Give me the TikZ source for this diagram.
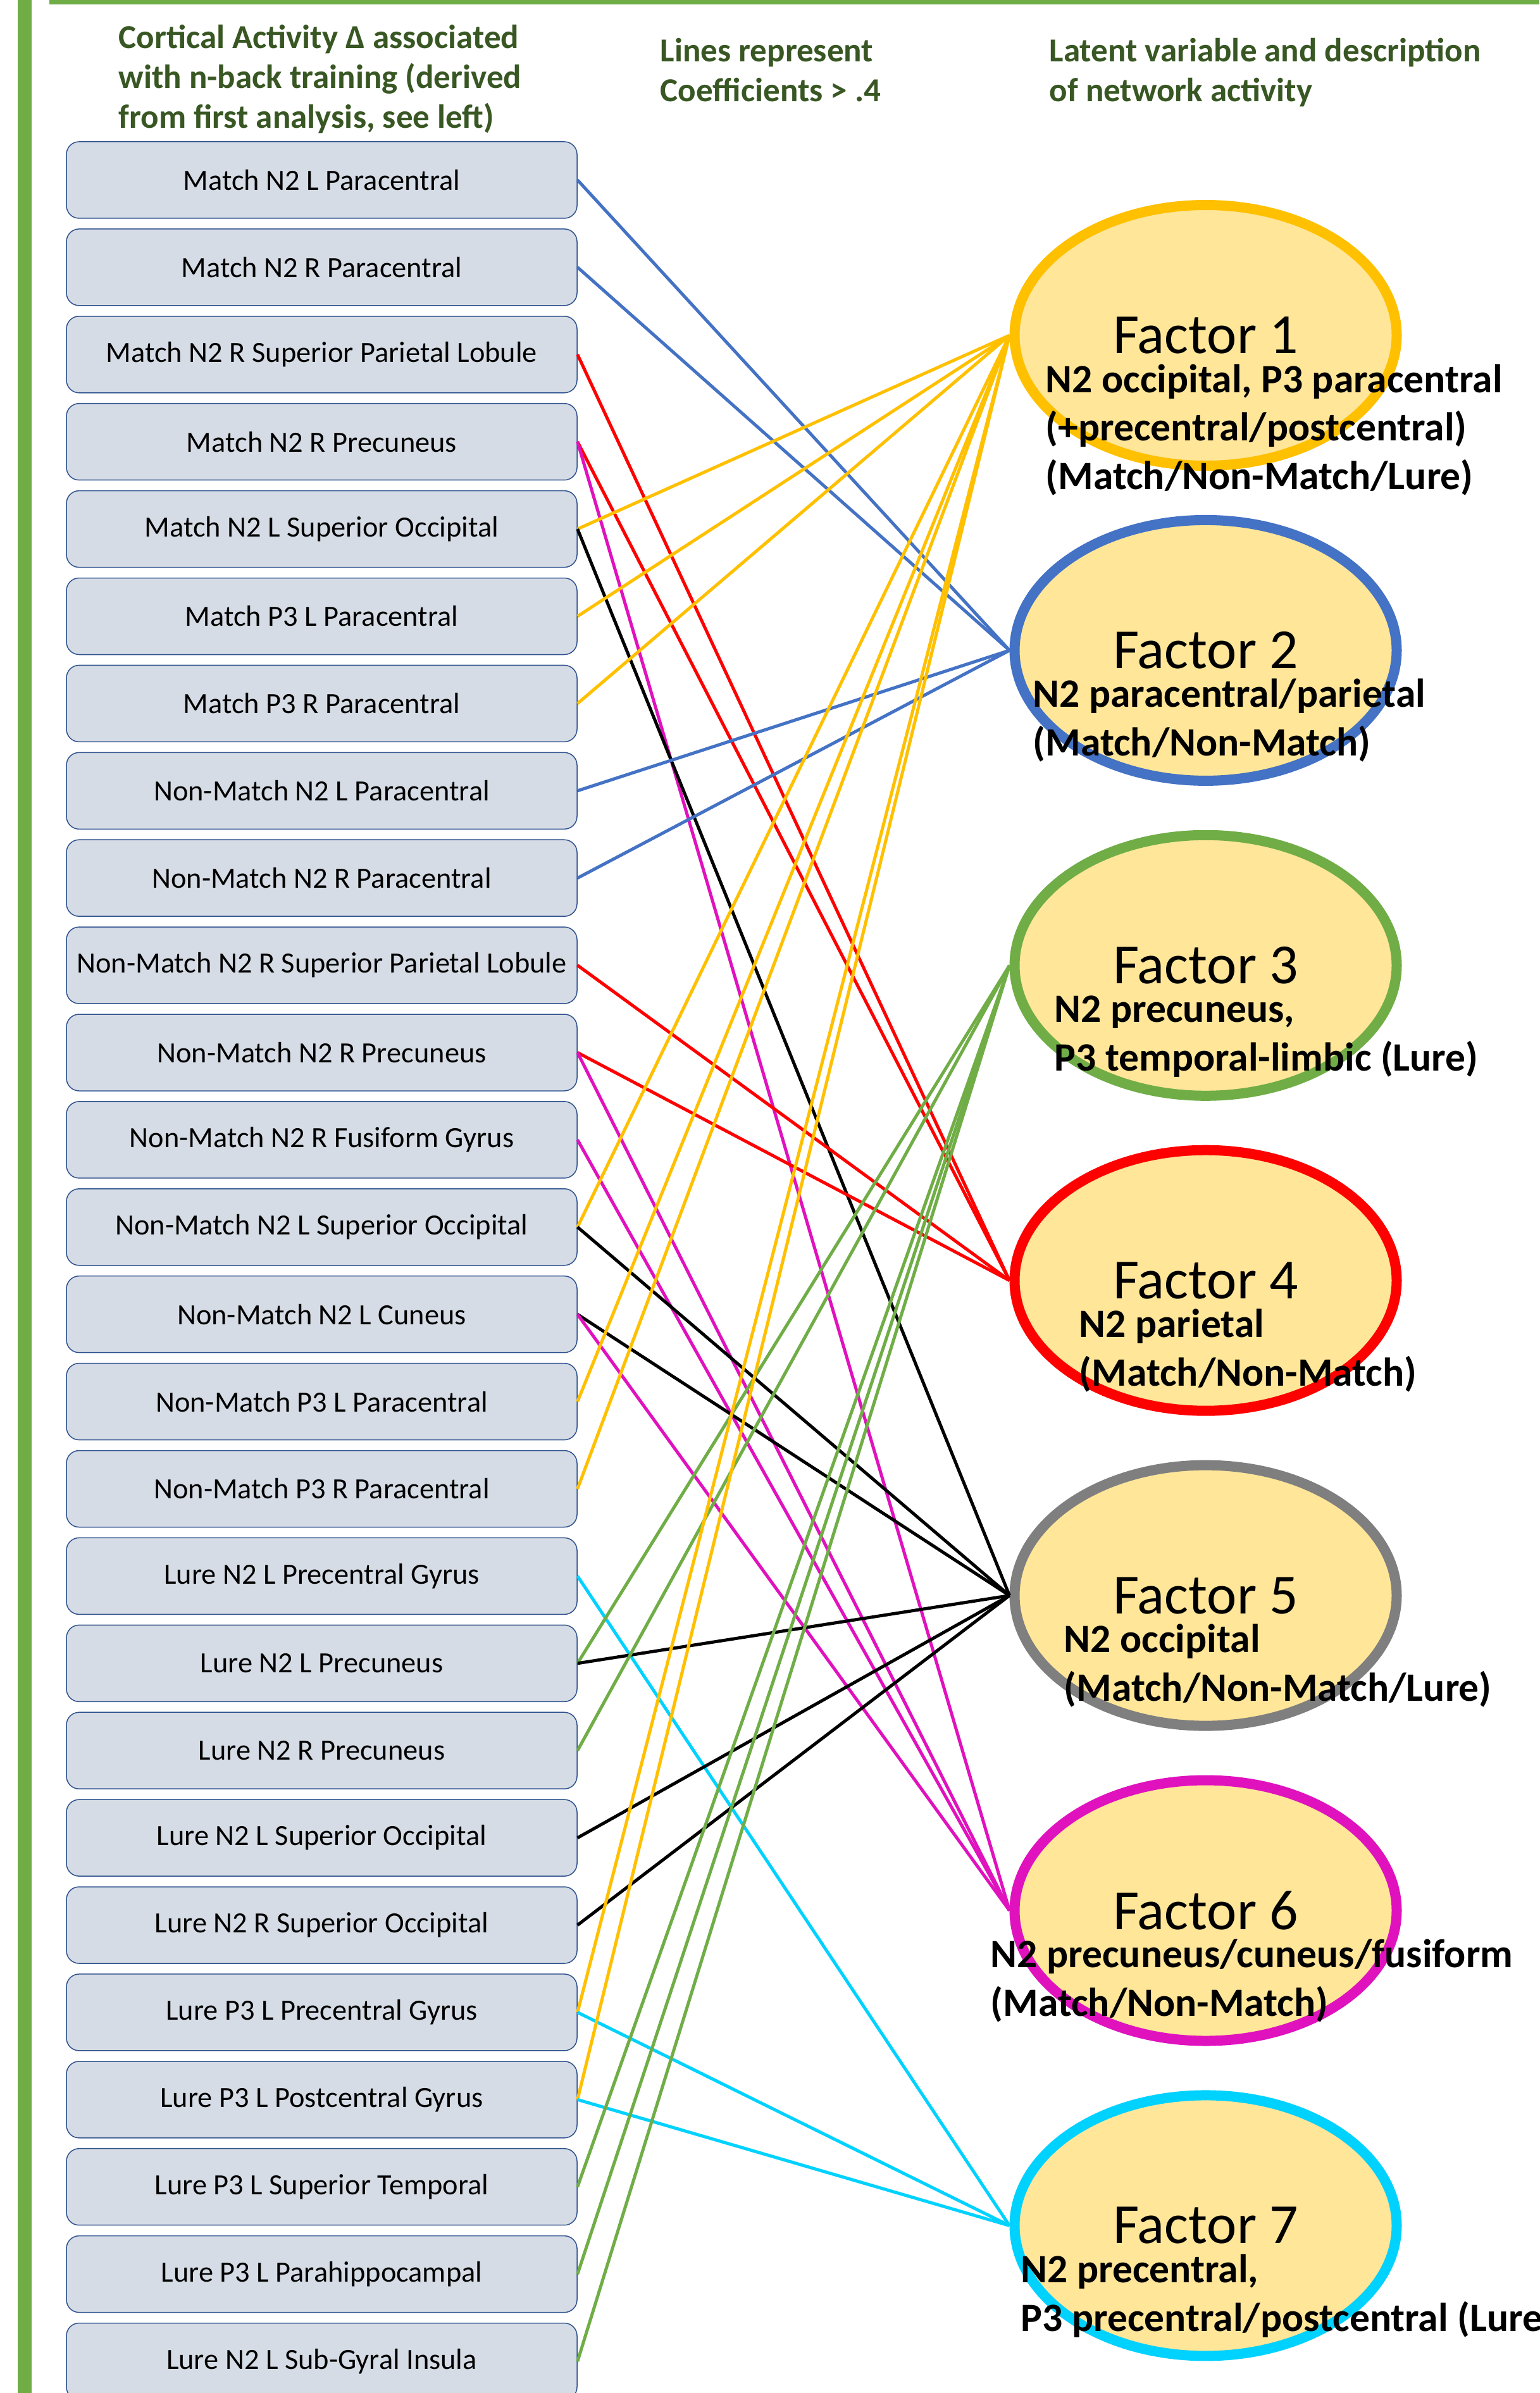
\documentclass[tikz,border=0pt]{standalone}
\usepackage{fontspec}
\setmainfont{Carlito}
\usepackage{xcolor}
\usepackage{tikz}
\usetikzlibrary{shapes.geometric}
\definecolor{frame}{RGB}{112,173,71}
\definecolor{headgreen}{RGB}{56,87,35}
\definecolor{boxfill}{RGB}{214,220,229}
\definecolor{boxline}{RGB}{47,82,143}
\definecolor{facfill}{RGB}{255,230,153}
\definecolor{cgold}{RGB}{255,192,0}
\definecolor{cblue}{RGB}{68,114,196}
\definecolor{cgreen}{RGB}{112,173,71}
\definecolor{cred}{RGB}{255,0,0}
\definecolor{cgray}{RGB}{127,127,127}
\definecolor{cpink}{RGB}{224,18,190}
\definecolor{ccyan}{RGB}{0,210,255}
\def\boxpitch{1.379}
\def\facpitch{4.979}
\def\descskip{0.767}
\def\regions{Match N2 L Paracentral, Match N2 R Paracentral, Match N2 R Superior Parietal Lobule,
  Match N2 R Precuneus, Match N2 L Superior Occipital, Match P3 L Paracentral, Match P3 R Paracentral,
  Non-Match N2 L Paracentral, Non-Match N2 R Paracentral, Non-Match N2 R Superior Parietal Lobule,
  Non-Match N2 R Precuneus, Non-Match N2 R Fusiform Gyrus, Non-Match N2 L Superior Occipital,
  Non-Match N2 L Cuneus, Non-Match P3 L Paracentral, Non-Match P3 R Paracentral,
  Lure N2 L Precentral Gyrus, Lure N2 L Precuneus, Lure N2 R Precuneus, Lure N2 L Superior Occipital,
  Lure N2 R Superior Occipital, Lure P3 L Precentral Gyrus, Lure P3 L Postcentral Gyrus,
  Lure P3 L Superior Temporal, Lure P3 L Parahippocampal, Lure N2 L Sub-Gyral Insula}
\tikzstyle{region}=[draw=boxline, line width=0.015cm, fill=boxfill, rounded corners=0.2cm,
  minimum width=8.07cm, minimum height=1.21cm, inner sep=0pt, font=\fontsize{13.2}{15}\selectfont]
\tikzstyle{factor}=[ellipse, fill=facfill, line width=0.16cm, minimum width=6.04cm,
  minimum height=4.12cm, inner sep=0pt, font=\fontsize{25.5}{30}\selectfont]
\tikzstyle{desc}=[anchor=base west, align=left, inner sep=0pt, font=\fontsize{18.1}{21.8}\selectfont\bfseries]
\tikzstyle{head}=[anchor=base west, align=left, inner sep=0pt, text=headgreen,
  font=\fontsize{15.1}{18}\selectfont\bfseries]
\tikzstyle{link}=[line width=0.05cm]

\begin{document}
\begin{tikzpicture}

\useasboundingbox (0,0) rectangle (24.33,-37.82);
\clip (0,0) rectangle (24.33,-37.82);

\fill[frame] (0.28,0) rectangle (0.50,-37.82);
\fill[frame] (0.78,0) rectangle (24.33,-0.07);

\node[head] (h1) at (1.87,-2.03) {Cortical Activity Δ associated\\with n-back training (derived\\from first analysis, see left)};
\node[head] (h2) at (10.43,-1.605) {Lines represent\\Coefficients > .4};
\node[head] (h3) at (16.58,-1.605) {Latent variable and description\\of network activity};

\foreach \lbl [count=\i] in \regions {
  \node[region] (b\i) at (5.085,{-2.845-(\i-1)*\boxpitch}) {\lbl};
}

\foreach \c [count=\i] in {cgold,cblue,cgreen,cred,cgray,cpink,ccyan} {
  \node[factor, draw=\c] (f\i) at (19.055,{-5.30-(\i-1)*\facpitch}) {Factor \i};
}

\foreach \b/\f/\c in {1/2/cblue, 2/2/cblue, 3/4/cred, 4/4/cred, 4/6/cpink, 5/1/cgold, 5/5/black,
    6/1/cgold, 7/1/cgold, 8/2/cblue, 9/2/cblue, 10/4/cred, 11/4/cred, 11/6/cpink, 12/6/cpink,
    13/1/cgold, 13/5/black, 14/5/black, 14/6/cpink, 15/1/cgold, 16/1/cgold, 17/7/ccyan,
    18/3/cgreen, 18/5/black, 19/3/cgreen, 20/5/black, 21/5/black, 22/1/cgold, 22/7/ccyan,
    23/1/cgold, 23/7/ccyan, 24/3/cgreen, 25/3/cgreen, 26/3/cgreen} {
  \draw[link, \c] (b\b.east) -- (f\f.west);
}

\foreach \i/\dx/\n/\txt in {1/16.52/2/{N2 occipital, P3 paracentral\\(+precentral/postcentral)\\(Match/Non-Match/Lure)},
    2/16.32/1/{N2 paracentral/parietal\\(Match/Non-Match)},
    3/16.66/1/{N2 precuneus,\\P3 temporal-limbic (Lure)},
    4/17.05/1/{N2 parietal\\(Match/Non-Match)},
    5/16.81/1/{N2 occipital\\(Match/Non-Match/Lure)},
    6/15.65/1/{N2 precuneus/cuneus/fusiform\\(Match/Non-Match)},
    7/16.13/1/{N2 precentral,\\P3 precentral/postcentral (Lure)}} {
  \node[desc] (d\i) at (\dx,{-5.30-(\i-1)*\facpitch-0.90-\n*\descskip}) {\txt};
}

\end{tikzpicture}
\end{document}
